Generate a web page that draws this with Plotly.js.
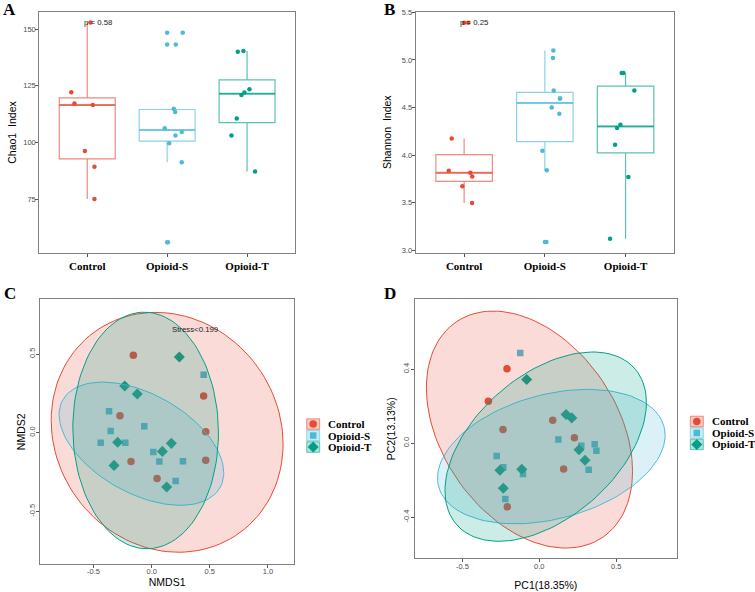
<!DOCTYPE html>
<html><head><meta charset="utf-8">
<script src="https://cdn.plot.ly/plotly-3.0.1.min.js"></script>
<style>html,body{margin:0;padding:0;background:#fff}</style>
</head><body><div id="chart" style="width:755px;height:592px"></div>
<script>
// ---------------- data ----------------
const groups = ['Control', 'Opioid-S', 'Opioid-T'];
const colors = ['#E64B35', '#4DBBD5', '#00A087'];

// Panel A: Chao1 index per sample, with horizontal jitter offsets
const chaoControl = [153.0, 122.2, 117.2, 116.5, 96.2, 89.3, 75.0];
const chaoControlJit = [0.04, -0.20, -0.16, 0.07, -0.03, 0.09, 0.09];
const chaoOpioidS = [148.4, 143.2, 114.9, 113.5, 106.3, 104.6, 103.1, 99.7, 91.3, 56.0];
const chaoOpioidSJit = [0.195, 0.108, 0.083, 0.10, -0.03, 0.183, 0.104, 0.025, 0.183, 0.01];
const chaoOpioidT = [140.1, 140.4, 123.5, 122.1, 121.0, 110.6, 103.1, 87.2];
const chaoOpioidTJit = [-0.116, -0.045, 0.03, -0.033, -0.07, -0.129, -0.195, 0.10];
const chaoP = 'p = 0.58';

// Panel B: Shannon index
const shanControl = [5.39, 4.175, 3.835, 3.814, 3.776, 3.674, 3.497];
const shanControlJit = [0.05, -0.154, -0.19, 0.077, 0.10, -0.022, 0.098];
const shanOpioidS = [5.098, 5.02, 4.679, 4.595, 4.595, 4.50, 4.434, 4.045, 3.842, 3.087];
const shanOpioidSJit = [0.105, 0.10, 0.11, 0.188, 0.188, 0.085, 0.179, -0.031, 0.024, 0.02];
const shanOpioidT = [4.861, 4.861, 4.679, 4.318, 4.284, 4.108, 3.769, 3.122];
const shanOpioidTJit = [-0.047, -0.027, 0.109, -0.064, -0.105, -0.13, 0.035, -0.192];
const shanP = 'p = 0.25';

// Panel C: NMDS
const nmdsControlX = [-0.158, 0.447, 0.465, -0.273, -0.178, 0.465, 0.046];
const nmdsControlY = [0.492, 0.233, 0.006, 0.108, -0.184, -0.176, -0.292];
const nmdsOpioidSX = [0.447, -0.367, -0.353, -0.064, -0.439, -0.227, 0.014, 0.066, 0.269, 0.206];
const nmdsOpioidSY = [0.369, 0.136, 0.011, 0.040, -0.064, -0.064, -0.123, -0.184, -0.182, -0.307];
const nmdsOpioidTX = [0.238, -0.232, -0.124, -0.293, 0.169, 0.092, -0.324, 0.129];
const nmdsOpioidTY = [0.481, 0.297, 0.246, -0.061, -0.068, -0.119, -0.208, -0.345];
const nmdsStress = 'Stress<0.199';

// Panel D: PCoA
const pcoaControlX = [-0.210, -0.331, -0.236, 0.087, 0.228, 0.158, -0.208];
const pcoaControlY = [0.402, 0.227, 0.074, 0.124, 0.030, -0.139, -0.344];
const pcoaOpioidSX = [-0.124, 0.124, 0.273, 0.360, 0.371, 0.321, -0.277, -0.234, -0.106, -0.221];
const pcoaOpioidSY = [0.488, 0.020, -0.013, -0.006, -0.040, -0.144, -0.069, -0.130, -0.166, -0.301];
const pcoaOpioidTX = [-0.082, 0.174, 0.211, 0.258, 0.297, -0.256, -0.114, -0.234];
const pcoaOpioidTY = [0.344, 0.155, 0.137, -0.035, -0.092, -0.146, -0.141, -0.243];

// tick labels
const chaoTicks = [75, 100, 125, 150];
const shanTicks = [3.0, 3.5, 4.0, 4.5, 5.0, 5.5];
const shanTickText = ['3.0', '3.5', '4.0', '4.5', '5.0', '5.5'];
const nmdsXTicks = [-0.5, 0, 0.5, 1.0];
const nmdsXTickText = ['-0.5', '0.0', '0.5', '1.0'];
const nmdsYTicks = [-0.5, 0, 0.5];
const nmdsYTickText = ['-0.5', '0.0', '0.5'];
const pcoaXTicks = [-0.5, 0, 0.5];
const pcoaXTickText = ['-0.5', '0.0', '0.5'];
const pcoaYTicks = [-0.4, 0, 0.4];
const pcoaYTickText = ['-0.4', '0.0', '0.4'];

// ---------------- helpers ----------------
const W = 755, H = 592;
const SANS = 'Liberation Sans, Arial, sans-serif';
const SERIF = 'Liberation Serif, Times New Roman, serif';
function rgba(hex, a) {
  const r = parseInt(hex.slice(1, 3), 16), g = parseInt(hex.slice(3, 5), 16), b = parseInt(hex.slice(5, 7), 16);
  return 'rgba(' + r + ',' + g + ',' + b + ',' + a + ')';
}
const px = v => v / W;
const py = v => 1 - v / H;

// R type-7 quantiles and Tukey whiskers (as ggplot2 geom_boxplot)
function quantile7(s, p) {
  const h = (s.length - 1) * p, lo = Math.floor(h);
  const hi = Math.min(lo + 1, s.length - 1);
  return s[lo] + (h - lo) * (s[hi] - s[lo]);
}
function boxStats(d) {
  const s = d.slice().sort((a, b) => a - b);
  const q1 = quantile7(s, 0.25), med = quantile7(s, 0.5), q3 = quantile7(s, 0.75), iqr = q3 - q1;
  const lf = q1 - 1.5 * iqr, uf = q3 + 1.5 * iqr;
  const inside = s.filter(v => v >= lf && v <= uf);
  return { q1, med, q3, lo: inside[0], hi: inside[inside.length - 1], out: s.filter(v => v < lf || v > uf) };
}

// MASS::cov.trob (multivariate t) as used by ggplot2 stat_ellipse(type = "t")
function covTrob(xs, ys) {
  const n = xs.length, p = 2, nu = 5;
  let lx = xs.reduce((a, b) => a + b, 0) / n, ly = ys.reduce((a, b) => a + b, 0) / n;
  let w = new Array(n).fill(1);
  let X = [];
  for (let iter = 0; iter < 25; iter++) {
    const w0 = w.slice();
    X = xs.map((x, i) => [x - lx, ys[i] - ly]);
    const sw = w.reduce((a, b) => a + b, 0);
    let s11 = 0, s12 = 0, s22 = 0;
    for (let i = 0; i < n; i++) {
      s11 += w[i] * X[i][0] * X[i][0] / sw;
      s12 += w[i] * X[i][0] * X[i][1] / sw;
      s22 += w[i] * X[i][1] * X[i][1] / sw;
    }
    const det = s11 * s22 - s12 * s12;
    const Q = X.map(([a, b]) => (s22 * a * a - 2 * s12 * a * b + s11 * b * b) / det);
    w = Q.map(q => (nu + p) / (nu + q));
    const sw2 = w.reduce((a, b) => a + b, 0);
    lx = 0; ly = 0;
    for (let i = 0; i < n; i++) { lx += w[i] * xs[i] / sw2; ly += w[i] * ys[i] / sw2; }
    if (w.every((v, i) => Math.abs(v - w0[i]) < 0.01)) break;
  }
  let c11 = 0, c12 = 0, c22 = 0;
  for (let i = 0; i < n; i++) {
    c11 += w[i] * X[i][0] * X[i][0] / n;
    c12 += w[i] * X[i][0] * X[i][1] / n;
    c22 += w[i] * X[i][1] * X[i][1] / n;
  }
  return { center: [lx, ly], cov: [c11, c12, c22] };
}
function ellipse(xs, ys, level) {
  const n = xs.length, dfd = n - 1;
  const qf = (dfd / 2) * (Math.pow(1 - level, -2 / dfd) - 1);
  const radius = Math.sqrt(2 * qf);
  const v = covTrob(xs, ys);
  const r11 = Math.sqrt(v.cov[0]), r12 = v.cov[1] / r11, r22 = Math.sqrt(v.cov[2] - r12 * r12);
  const ex = [], ey = [], seg = 120;
  for (let k = 0; k <= seg; k++) {
    const a = k * 2 * Math.PI / seg, c = Math.cos(a), s = Math.sin(a);
    ex.push(v.center[0] + radius * c * r11);
    ey.push(v.center[1] + radius * (c * r12 + s * r22));
  }
  return { ex, ey };
}

// ---------------- traces ----------------
const traces = [];
const boxW = 0.7;
function boxPanel(xa, ya, datasets, jitters) {
  datasets.forEach((d, g) => {
    const st = boxStats(d);
    const lc = rgba(colors[g], 0.65);
    traces.push({
      type: 'box', x: [g], q1: [st.q1], median: [st.med], q3: [st.q3],
      lowerfence: [st.lo], upperfence: [st.hi], width: boxW, xaxis: xa, yaxis: ya,
      boxpoints: false, whiskerwidth: 0, fillcolor: 'rgba(255,255,255,0)',
      line: { color: lc, width: 1.2 }, showlegend: false, hoverinfo: 'skip'
    });
    // thicker median line (ggplot fatten = 2)
    traces.push({
      type: 'scatter', mode: 'lines', xaxis: xa, yaxis: ya,
      x: [g - boxW / 2, g + boxW / 2], y: [st.med, st.med],
      line: { color: lc, width: 2 }, showlegend: false, hoverinfo: 'skip'
    });
    // outliers at the box centre
    traces.push({
      type: 'scatter', mode: 'markers', xaxis: xa, yaxis: ya,
      x: st.out.map(() => g), y: st.out,
      marker: { color: colors[g], size: 4.5 }, showlegend: false, hoverinfo: 'skip'
    });
  });
  datasets.forEach((d, g) => {
    traces.push({
      type: 'scatter', mode: 'markers', xaxis: xa, yaxis: ya,
      x: d.map((_, k) => g + jitters[g][k]), y: d,
      marker: { color: colors[g], size: 4.5 }, showlegend: false, hoverinfo: 'y'
    });
  });
}
boxPanel('x', 'y', [chaoControl, chaoOpioidS, chaoOpioidT], [chaoControlJit, chaoOpioidSJit, chaoOpioidTJit]);
boxPanel('x2', 'y2', [shanControl, shanOpioidS, shanOpioidT], [shanControlJit, shanOpioidSJit, shanOpioidTJit]);

const symbols = ['circle', 'square', 'diamond'];
const symSizes = [7.5, 6.5, 8.5];
function ordPanel(xa, ya, xsets, ysets) {
  xsets.forEach((xs, g) => {
    traces.push({
      type: 'scatter', mode: 'markers', xaxis: xa, yaxis: ya, x: xs, y: ysets[g],
      marker: { color: colors[g], size: symSizes[g], symbol: symbols[g] },
      name: groups[g], showlegend: false
    });
  });
  xsets.forEach((xs, g) => {
    const e = ellipse(xs, ysets[g], 0.95);
    traces.push({
      type: 'scatter', mode: 'lines', xaxis: xa, yaxis: ya, x: e.ex, y: e.ey,
      fill: 'toself', fillcolor: rgba(colors[g], 0.2),
      line: { color: colors[g], width: 1 }, showlegend: false, hoverinfo: 'skip'
    });
  });
}
ordPanel('x3', 'y3', [nmdsControlX, nmdsOpioidSX, nmdsOpioidTX], [nmdsControlY, nmdsOpioidSY, nmdsOpioidTY]);
ordPanel('x4', 'y4', [pcoaControlX, pcoaOpioidSX, pcoaOpioidTX], [pcoaControlY, pcoaOpioidSY, pcoaOpioidTY]);

// legend keys (markers drawn on a hidden pixel-space axis)
const legends = [{ x: 306.7, y: 418.3, tx: 326 }, { x: 690.3, y: 415.7, tx: 709.7 }];
const shapes = [], annotations = [];
const keyW = 13, keyH = 11.5;
legends.forEach(L => {
  groups.forEach((name, g) => {
    const y0 = L.y + g * keyH;
    shapes.push({
      type: 'rect', xref: 'paper', yref: 'paper',
      x0: px(L.x), x1: px(L.x + keyW), y0: py(y0 + 0.5), y1: py(y0 + keyH - 0.5),
      fillcolor: rgba(colors[g], 0.3), line: { color: rgba(colors[g], 0.55), width: 1 }
    });
    annotations.push({
      xref: 'paper', yref: 'paper', x: px(L.tx), y: py(y0 + keyH / 2), xanchor: 'left', yanchor: 'middle',
      text: name, showarrow: false, font: { family: SERIF, size: 11, color: '#000', weight: 'bold' }
    });
    traces.push({
      type: 'scatter', mode: 'markers', xaxis: 'x5', yaxis: 'y5',
      x: [L.x + keyW / 2], y: [y0 + keyH / 2],
      marker: { color: colors[g], size: symSizes[g], symbol: symbols[g] },
      showlegend: false, hoverinfo: 'skip', cliponaxis: false
    });
  });
});

// panel letters
[['A', 9, 10], ['B', 389, 10], ['C', 10, 293], ['D', 390, 293]].forEach(([t, x, y]) => {
  annotations.push({
    xref: 'paper', yref: 'paper', x: px(x), y: py(y), xanchor: 'center', yanchor: 'middle',
    text: t, showarrow: false, font: { family: SERIF, size: 17, color: '#000', weight: 'bold' }
  });
});
const smallFont = { family: SANS, size: 7.8, color: '#222' };
annotations.push({ xref: 'x', yref: 'y', x: -0.07, y: Math.max(...chaoControl), xanchor: 'left', yanchor: 'middle', text: chaoP, showarrow: false, font: smallFont });
annotations.push({ xref: 'x2', yref: 'y2', x: -0.07, y: Math.max(...shanControl), xanchor: 'left', yanchor: 'middle', text: shanP, showarrow: false, font: smallFont });
annotations.push({ xref: 'x3', yref: 'y3', x: 0.375, y: 0.653, xanchor: 'center', yanchor: 'middle', text: nmdsStress, showarrow: false, font: smallFont });

// ---------------- layout ----------------
const tickFont = { family: SANS, size: 7.5, color: '#4d4d4d' };
const catFont = { family: SERIF, size: 11, color: '#000', weight: 'bold' };
const titleFont = { family: SANS, size: 10.5, color: '#000' };
const base = {
  showline: true, mirror: true, linecolor: '#808080', linewidth: 1,
  ticks: 'outside', ticklen: 3, tickwidth: 1, tickcolor: '#555',
  showgrid: false, zeroline: false, tickfont: tickFont, fixedrange: true
};
function ax(o) { return Object.assign({}, base, o); }

const layout = {
  width: W, height: H, margin: { l: 0, r: 0, t: 0, b: 0 },
  paper_bgcolor: '#fff', plot_bgcolor: 'rgba(0,0,0,0)', showlegend: false,
  xaxis: ax({ domain: [px(39.3), px(295)], range: [-0.6, 2.6], tickvals: [0, 1, 2], ticktext: groups, tickfont: catFont, anchor: 'y' }),
  yaxis: ax({ domain: [py(253), py(12)], range: [51.2, 157.6], tickvals: chaoTicks, anchor: 'x', ticklabelstandoff: -2,
    title: { text: 'Chao1\u00a0 Index', font: titleFont, standoff: 4 } }),
  xaxis2: ax({ domain: [px(415.7), px(674)], range: [-0.6, 2.6], tickvals: [0, 1, 2], ticktext: groups, tickfont: catFont, anchor: 'y2' }),
  yaxis2: ax({ domain: [py(252.7), py(11.7)], range: [2.975, 5.506], tickvals: shanTicks, ticktext: shanTickText, anchor: 'x2', ticklabelstandoff: -2,
    title: { text: 'Shannon\u00a0 Index', font: titleFont, standoff: 8 } }),
  xaxis3: ax({ domain: [px(40), px(294.3)], range: [-0.961, 1.227], tickvals: nmdsXTicks, ticktext: nmdsXTickText, anchor: 'y3', ticklabelstandoff: -3,
    title: { text: 'NMDS1', font: titleFont, standoff: 0 } }),
  yaxis3: ax({ domain: [py(564.3), py(299.3)], range: [-0.837, 0.848], tickvals: nmdsYTicks, ticktext: nmdsYTickText, tickangle: -90, anchor: 'x3', ticklabelstandoff: -2,
    title: { text: 'NMDS2', font: titleFont, standoff: 0 } }),
  xaxis4: ax({ domain: [px(415), px(676.7)], range: [-0.808, 0.893], tickvals: pcoaXTicks, ticktext: pcoaXTickText, anchor: 'y4', ticklabelstandoff: -2,
    title: { text: 'PC1(18.35%)', font: titleFont, standoff: 11 } }),
  yaxis4: ax({ domain: [py(558.3), py(299.3)], range: [-0.622, 0.778], tickvals: pcoaYTicks, ticktext: pcoaYTickText, tickangle: -90, anchor: 'x4', ticklabelstandoff: -1,
    title: { text: 'PC2(13.13%)', font: titleFont, standoff: 4 } }),
  xaxis5: { domain: [0, 1], range: [0, W], visible: false, fixedrange: true, anchor: 'y5' },
  yaxis5: { domain: [0, 1], range: [H, 0], visible: false, fixedrange: true, anchor: 'x5' },
  shapes: shapes, annotations: annotations
};

Plotly.newPlot('chart', traces, layout, { displayModeBar: false, staticPlot: true });
</script></body></html>
